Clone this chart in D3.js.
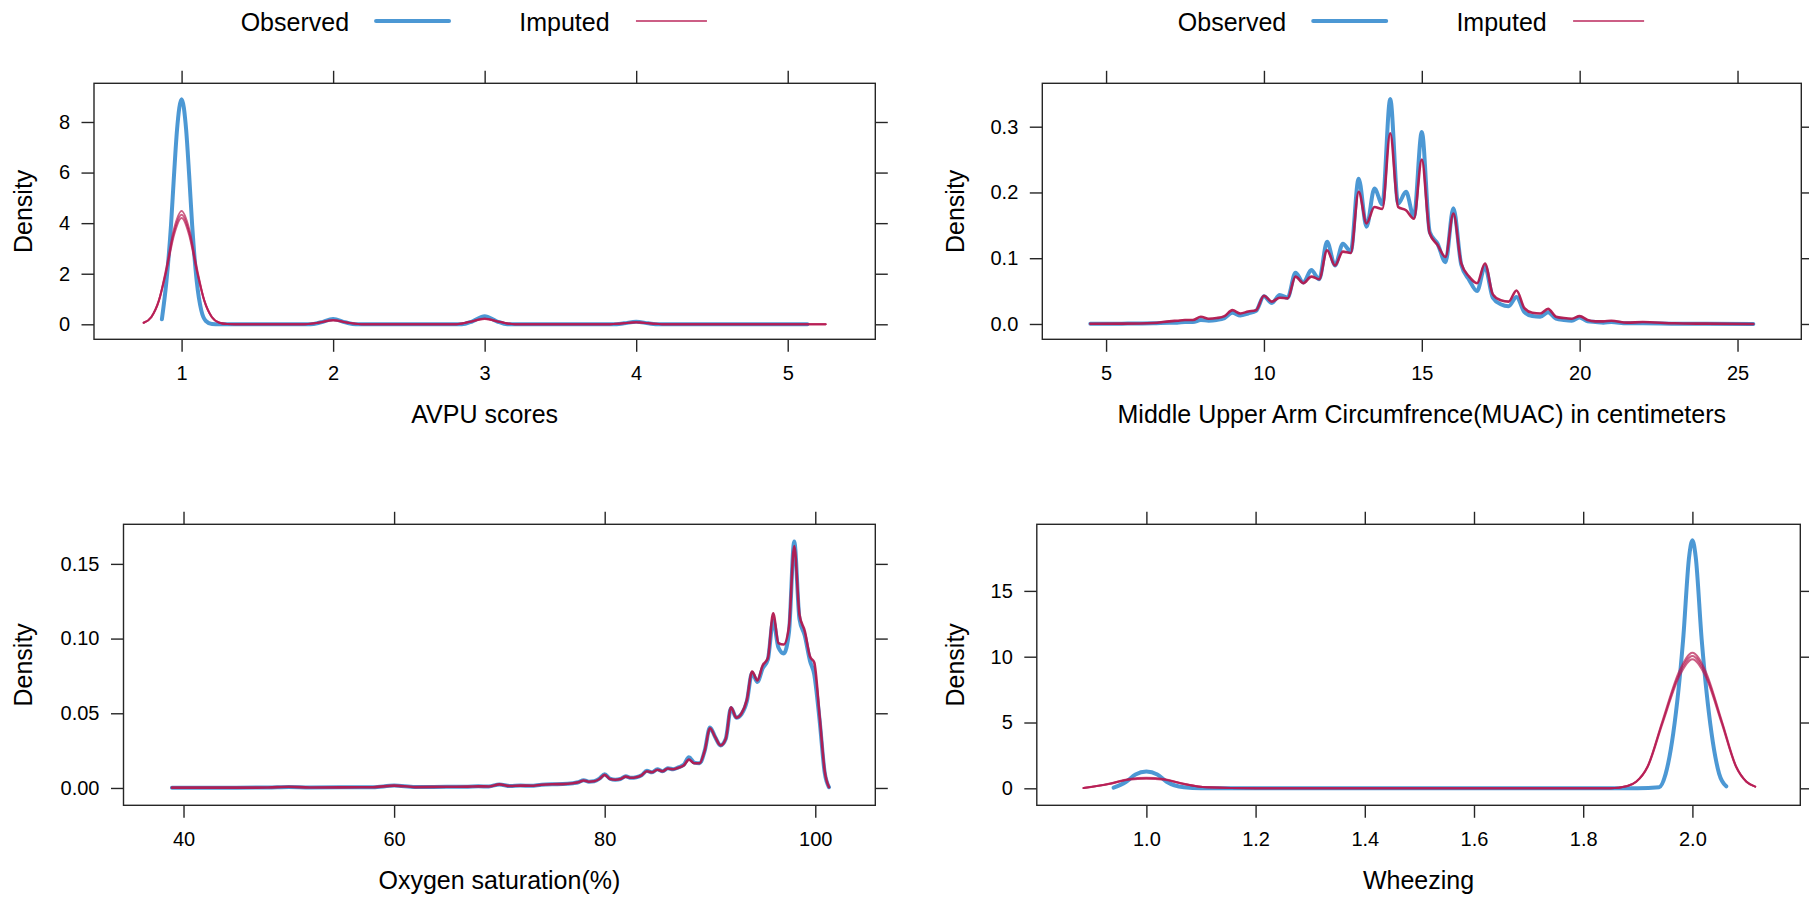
<!DOCTYPE html>
<html>
<head>
<meta charset="utf-8">
<script src="https://cdn.jsdelivr.net/npm/d3@7/dist/d3.min.js"></script>
<style>
  body { margin: 0; background: #fff; }
  svg text { font-family: "Liberation Sans", Arial, Helvetica, sans-serif; fill: #000; }
</style>
</head>
<body>
<svg id="chart" width="1809" height="898"></svg>
<script>
// ---- AVPU scores ----
const avpuObsX = [0.87, 0.90, 0.93, 0.95, 0.97, 1.00, 1.03, 1.05, 1.07, 1.10, 1.13, 1.16, 1.20, 1.25,
                  1.85, 1.92, 2.00, 2.08, 2.15, 2.85, 2.92, 3.00, 3.08, 3.15, 3.85, 3.92, 4.00, 4.08, 4.15, 5.13];
const avpuObsY = [0.2, 1.7, 3.9, 5.9, 7.7, 8.9, 7.7, 5.9, 3.9, 1.7, 0.55, 0.13, 0.01, 0,
                  0, 0.08, 0.21, 0.08, 0, 0, 0.12, 0.32, 0.12, 0, 0, 0.04, 0.10, 0.04, 0, 0];
const avpuImpX = [0.75, 0.80, 0.85, 0.90, 0.95, 1.00, 1.05, 1.10, 1.15, 1.20, 1.25, 1.30, 1.40,
                  1.80, 1.90, 2.00, 2.10, 2.20, 2.80, 2.90, 3.00, 3.10, 3.20, 3.80, 3.90, 4.00, 4.10, 4.20, 5.25];
const avpuImpY = [
  [0.06, 0.28, 0.93, 2.25, 3.77, 4.48, 3.77, 2.25, 0.93, 0.28, 0.06, 0.01, 0, 0, 0.06, 0.16, 0.06, 0, 0, 0.09, 0.22, 0.09, 0, 0, 0.035, 0.08, 0.035, 0, 0],
  [0.06, 0.28, 0.92, 2.17, 3.64, 4.33, 3.64, 2.17, 0.92, 0.28, 0.06, 0.01, 0, 0, 0.06, 0.15, 0.06, 0, 0, 0.09, 0.21, 0.09, 0, 0, 0.035, 0.08, 0.035, 0, 0],
  [0.06, 0.29, 0.95, 2.12, 3.53, 4.20, 3.53, 2.12, 0.95, 0.29, 0.06, 0.01, 0, 0, 0.06, 0.17, 0.06, 0, 0, 0.10, 0.23, 0.10, 0, 0, 0.035, 0.08, 0.035, 0, 0]
];
const avpuXTicks = [1, 2, 3, 4, 5];
const avpuYTicks = [0, 2, 4, 6, 8];

// ---- MUAC ----
const muacX = [4.5, 5.5, 6.5, 7.0, 7.25, 7.5, 7.75, 8.0, 8.25, 8.5, 8.75, 9.0, 9.25, 9.5, 9.75,
               10.0, 10.25, 10.5, 10.75, 11.0, 11.25, 11.5, 11.75, 12.0, 12.25, 12.5, 12.75,
               13.0, 13.25, 13.5, 13.75, 14.0, 14.25, 14.5, 14.75, 15.0, 15.25, 15.5, 15.75,
               16.0, 16.25, 16.5, 16.75, 17.0, 17.25, 17.5, 17.75, 18.0, 18.25, 18.5, 18.75,
               19.0, 19.25, 19.5, 19.75, 20.0, 20.25, 20.5, 20.75, 21.0, 21.5, 22.0, 23.0, 24.0, 25.5];
const muacObs = [0.0003, 0.0005, 0.001, 0.002, 0.002, 0.003, 0.003, 0.006, 0.005, 0.006, 0.009, 0.017, 0.013, 0.016, 0.020,
                 0.042, 0.032, 0.044, 0.040, 0.078, 0.063, 0.082, 0.068, 0.125, 0.089, 0.122, 0.110,
                 0.221, 0.148, 0.206, 0.182, 0.342, 0.183, 0.201, 0.163, 0.292, 0.140, 0.122, 0.094,
                 0.176, 0.090, 0.067, 0.050, 0.087, 0.040, 0.030, 0.027, 0.041, 0.018, 0.012, 0.011,
                 0.018, 0.008, 0.006, 0.005, 0.010, 0.004, 0.003, 0.002, 0.003, 0.001, 0.001, 0.0005, 0.0003, 0];
const muacImp = [0.0003, 0.0005, 0.0015, 0.004, 0.005, 0.006, 0.006, 0.011, 0.008, 0.009, 0.012, 0.021, 0.016, 0.019, 0.021,
                 0.043, 0.034, 0.040, 0.039, 0.072, 0.062, 0.072, 0.068, 0.112, 0.089, 0.110, 0.108,
                 0.201, 0.153, 0.178, 0.175, 0.290, 0.178, 0.173, 0.160, 0.250, 0.138, 0.120, 0.102,
                 0.168, 0.092, 0.072, 0.062, 0.092, 0.045, 0.036, 0.034, 0.051, 0.024, 0.017, 0.016,
                 0.023, 0.011, 0.009, 0.008, 0.012, 0.006, 0.004, 0.004, 0.005, 0.002, 0.003, 0.001, 0.0005, 0];
const muacXTicks = [5, 10, 15, 20, 25];
const muacYTicks = [0, 0.1, 0.2, 0.3];

// ---- Oxygen saturation ----
const spo2X = [38.9, 42, 45, 48, 50, 52, 55, 58, 60, 62, 65, 67, 68, 69, 70, 71, 72, 73, 74, 75, 76, 77,
               77.5, 78, 78.5, 79, 79.5, 80, 80.5, 81, 81.5, 82, 82.5, 83, 83.5, 84, 84.5, 85, 85.5,
               86, 86.5, 87, 87.5, 88, 88.5, 89, 89.5, 90, 90.5, 91, 91.5, 92, 92.5, 93, 93.5, 94,
               94.5, 95, 95.5, 96, 96.5, 97, 97.5, 98, 98.5, 99, 99.5, 99.9, 100.4, 100.9, 101.3];
const spo2Obs = [0.0002, 0.0002, 0.0002, 0.0003, 0.0006, 0.0003, 0.0004, 0.0005, 0.0016, 0.0006, 0.0008, 0.0009,
                 0.0011, 0.001, 0.0024, 0.0013, 0.0016, 0.0015, 0.0022, 0.0025, 0.0026, 0.0032,
                 0.0038, 0.0052, 0.0042, 0.0045, 0.0062, 0.0092, 0.0062, 0.0055, 0.006, 0.0078, 0.0068,
                 0.0072, 0.0085, 0.0115, 0.0105, 0.0125, 0.0112, 0.0132, 0.0125, 0.0138, 0.0155, 0.0205,
                 0.017, 0.0165, 0.025, 0.0405, 0.034, 0.0285, 0.033, 0.0535, 0.047, 0.0495, 0.058, 0.077,
                 0.071, 0.080, 0.086, 0.112, 0.094, 0.090, 0.104, 0.165, 0.113, 0.102, 0.085, 0.076,
                 0.046, 0.010, 0.0005];
const spo2Imp = [0.0002, 0.0002, 0.0002, 0.0003, 0.0008, 0.0003, 0.0004, 0.0005, 0.0016, 0.0006, 0.0008, 0.0009,
                 0.0011, 0.001, 0.0024, 0.0013, 0.0016, 0.0015, 0.0022, 0.0025, 0.0026, 0.0032,
                 0.0038, 0.005, 0.0042, 0.0045, 0.006, 0.0088, 0.006, 0.0055, 0.006, 0.0076, 0.0068,
                 0.0072, 0.0085, 0.0112, 0.0105, 0.0122, 0.0112, 0.013, 0.0125, 0.0136, 0.015, 0.019,
                 0.0165, 0.0165, 0.025, 0.040, 0.034, 0.0285, 0.033, 0.054, 0.047, 0.050, 0.059, 0.078,
                 0.072, 0.082, 0.087, 0.117, 0.097, 0.096, 0.108, 0.162, 0.116, 0.105, 0.088, 0.084,
                 0.049, 0.011, 0.0005];
const spo2XTicks = [40, 60, 80, 100];
const spo2YTicks = [0, 0.05, 0.10, 0.15];

// ---- Wheezing ----
const wheezeObsX = [0.94, 0.963, 0.98, 1.00, 1.02, 1.037, 1.069, 1.10, 1.90,
                    1.939, 1.951, 1.965, 1.983, 1.994, 2.00, 2.006, 2.017, 2.035, 2.049, 2.062];
const wheezeObsY = [0.05, 0.5, 1.05, 1.27, 1.05, 0.5, 0.08, 0, 0,
                    0.08, 1.1, 4.2, 11.3, 17.6, 18.85, 17.6, 11.3, 4.2, 1.1, 0.15];
const wheezeImpX = [0.885, 0.931, 0.968, 1.00, 1.032, 1.069, 1.11, 1.20, 1.85,
                    1.881, 1.897, 1.918, 1.945, 1.977, 2.00, 2.023, 2.054, 2.080, 2.099, 2.115];
const wheezeImpY = [
  [0.02, 0.34, 0.70, 0.80, 0.70, 0.34, 0.08, 0.01, 0, 0.18, 0.5, 1.68, 5.1, 9.0, 10.3, 9.0, 5.1, 1.68, 0.5, 0.13],
  [0.02, 0.33, 0.68, 0.76, 0.68, 0.33, 0.08, 0.01, 0, 0.18, 0.5, 1.65, 5.0, 8.8, 10.05, 8.8, 5.0, 1.65, 0.5, 0.13],
  [0.02, 0.32, 0.66, 0.72, 0.66, 0.32, 0.08, 0.01, 0, 0.18, 0.5, 1.62, 4.9, 8.6, 9.8, 8.6, 4.9, 1.62, 0.5, 0.13]
];
const wheezeXTicks = [1.0, 1.2, 1.4, 1.6, 1.8, 2.0];
const wheezeYTicks = [0, 5, 10, 15];

// ---- styling ----
const obsColor = "rgba(0,108,194,0.7)";
const impColor = "rgba(182,26,81,0.7)";
const frameColor = "#262626";
const tickLen = 12.5;

const svg = d3.select("#chart");

const panels = [
  { left: 94, right: 875.3, top: 83.3, bottom: 339.3, xDomain: [0.422, 5.578], yDomain: [-0.593, 9.53],
    xTicks: avpuXTicks, yTicks: avpuYTicks, xFmt: d3.format("d"), yFmt: d3.format("d"),
    obs: d3.zip(avpuObsX, avpuObsY), imp: avpuImpY.map(s => d3.zip(avpuImpX, s)),
    xlab: "AVPU scores", ylabX: 32, legend: true },
  { left: 1042.3, right: 1801.3, top: 83.3, bottom: 339.3, xDomain: [2.98, 27.02], yDomain: [-0.0233, 0.366],
    xTicks: muacXTicks, yTicks: muacYTicks, xFmt: d3.format("d"), yFmt: d3.format(".1f"),
    obs: d3.zip(muacX, muacObs), imp: [d3.zip(muacX, muacImp)],
    xlab: "Middle Upper Arm Circumfrence(MUAC) in centimeters", ylabX: 964, legend: true },
  { left: 123.5, right: 875.3, top: 524.3, bottom: 805.3, xDomain: [34.3, 105.7], yDomain: [-0.0116, 0.1765],
    xTicks: spo2XTicks, yTicks: spo2YTicks, xFmt: d3.format("d"), yFmt: d3.format(".2f"),
    obs: d3.zip(spo2X, spo2Obs), imp: [d3.zip(spo2X, spo2Imp)],
    xlab: "Oxygen saturation(%)", ylabX: 32, legend: false },
  { left: 1036.8, right: 1800.3, top: 524.3, bottom: 805.3, xDomain: [0.7993, 2.1976], yDomain: [-1.29, 20.06],
    xTicks: wheezeXTicks, yTicks: wheezeYTicks, xFmt: d3.format(".1f"), yFmt: d3.format("d"),
    obs: d3.zip(wheezeObsX, wheezeObsY), imp: wheezeImpY.map(s => d3.zip(wheezeImpX, s)),
    xlab: "Wheezing", ylabX: 964, legend: false }
];

function styleAxis(g) {
  g.select(".domain").remove();
  g.attr("font-family", null).attr("font-size", null);
  g.style("color", frameColor);
  g.selectAll("line").attr("stroke-width", 1.4);
  g.selectAll("text").style("font-size", "20px").attr("fill", "#000");
}

function drawPanel(p) {
  const x = d3.scaleLinear().domain(p.xDomain).range([p.left, p.right]);
  const y = d3.scaleLinear().domain(p.yDomain).range([p.bottom, p.top]);
  const g = svg.append("g");

  // axes (ticks on all four sides, labels left and bottom)
  g.append("g").attr("transform", `translate(0,${p.bottom})`)
    .call(d3.axisBottom(x).tickValues(p.xTicks).tickFormat(p.xFmt).tickSize(tickLen).tickPadding(14))
    .call(styleAxis);
  g.append("g").attr("transform", `translate(0,${p.top})`)
    .call(d3.axisTop(x).tickValues(p.xTicks).tickFormat("").tickSize(tickLen))
    .call(styleAxis);
  g.append("g").attr("transform", `translate(${p.left},0)`)
    .call(d3.axisLeft(y).tickValues(p.yTicks).tickFormat(p.yFmt).tickSize(tickLen).tickPadding(11.5))
    .call(styleAxis);
  g.append("g").attr("transform", `translate(${p.right},0)`)
    .call(d3.axisRight(y).tickValues(p.yTicks).tickFormat("").tickSize(tickLen))
    .call(styleAxis);

  // frame
  g.append("rect")
    .attr("x", p.left).attr("y", p.top)
    .attr("width", p.right - p.left).attr("height", p.bottom - p.top)
    .attr("fill", "none").attr("stroke", frameColor).attr("stroke-width", 1.4);

  const line = d3.line().x(d => x(d[0])).y(d => y(d[1])).curve(d3.curveMonotoneX);

  g.append("path").datum(p.obs)
    .attr("d", line).attr("fill", "none")
    .attr("stroke", obsColor).attr("stroke-width", 4)
    .attr("stroke-linecap", "round").attr("stroke-linejoin", "round");

  // several imputations overlap; a single stored series gets the stacked look
  const single = p.imp.length === 1;
  g.selectAll(".imp").data(p.imp).enter().append("path")
    .attr("class", "imp")
    .attr("d", line).attr("fill", "none")
    .attr("stroke", single ? "rgba(178,24,78,0.95)" : impColor)
    .attr("stroke-width", single ? 2.6 : 2)
    .attr("stroke-linecap", "round").attr("stroke-linejoin", "round");

  // axis titles
  g.append("text")
    .attr("x", (p.left + p.right) / 2).attr("y", p.bottom + 83.5)
    .attr("text-anchor", "middle").style("font-size", "25px")
    .text(p.xlab);
  g.append("text")
    .attr("transform", `translate(${p.ylabX},${(p.top + p.bottom) / 2}) rotate(-90)`)
    .attr("text-anchor", "middle").style("font-size", "25px")
    .text("Density");

  if (p.legend) {
    const cx = (p.left + p.right) / 2;
    const lg = g.append("g").attr("transform", `translate(${cx},0)`);
    lg.append("text").attr("x", -244).attr("y", 31).style("font-size", "25px").text("Observed");
    lg.append("line").attr("x1", -108.6).attr("x2", -35.6).attr("y1", 21).attr("y2", 21)
      .attr("stroke", obsColor).attr("stroke-width", 4).attr("stroke-linecap", "round");
    lg.append("text").attr("x", 34.6).attr("y", 31).style("font-size", "25px").text("Imputed");
    lg.append("line").attr("x1", 151.3).attr("x2", 222.3).attr("y1", 21).attr("y2", 21)
      .attr("stroke", impColor).attr("stroke-width", 1.8);
  }
}

panels.forEach(drawPanel);
</script>
</body>
</html>
